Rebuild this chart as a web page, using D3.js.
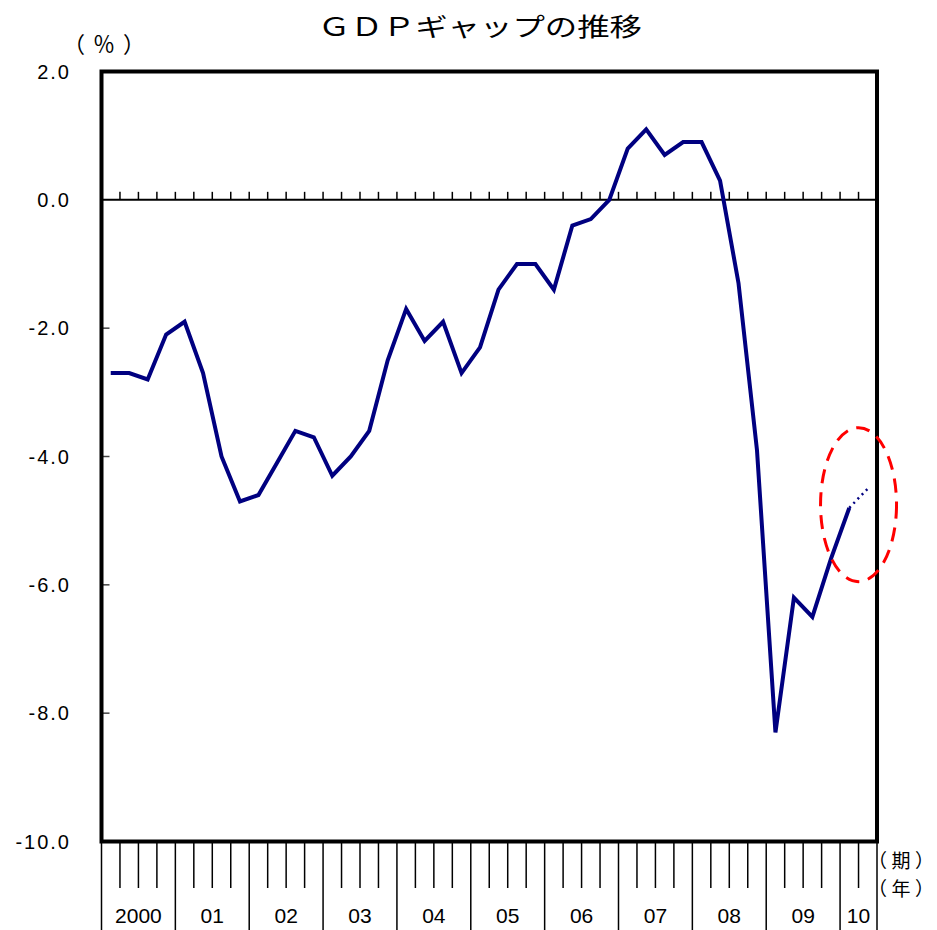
<!DOCTYPE html>
<html><head><meta charset="utf-8">
<script src="https://cdn.jsdelivr.net/npm/d3@7"></script>
<style>
html,body{margin:0;padding:0;background:#fff;}
svg{display:block;}
</style></head>
<body>
<script>
// ---- data ----
const title = "ＧＤＰギャップの推移";
const unitLabel = "（％）";
const periodLabel = "（期）";
const yearAxisLabel = "（年）";
const yearLabels = ["2000","01","02","03","04","05","06","07","08","09","10"];
const quartersPerYear = [4,4,4,4,4,4,4,4,4,4,2];
const yTicks = [2,0,-2,-4,-6,-8,-10];
const yTickLabels = ["2.0","0.0","-2.0","-4.0","-6.0","-8.0","-10.0"];
// quarterly GDP gap (%) 2000Q1 .. 2010Q1
const gapValues = [-2.7,-2.7,-2.8,-2.1, -1.9,-2.7,-4.0,-4.7, -4.6,-4.1,-3.6,-3.7,
  -4.3,-4.0,-3.6,-2.5, -1.7,-2.2,-1.9,-2.7, -2.3,-1.4,-1.0,-1.0,
  -1.4,-0.4,-0.3,0.0, 0.8,1.1,0.7,0.9, 0.9,0.3,-1.3,-3.9,
  -8.3,-6.2,-6.5,-5.6, -4.8];
// 2010Q1 -> 2010Q2 estimate (dotted)
const projectedValues = [-4.8,-4.5];

// ---- layout ----
const W = 937, H = 930;
const L = 101.5, R = 877, T = 71.5, B = 841.5;
const nQ = d3.sum(quartersPerYear);

const svg = d3.select("body").append("svg").attr("width", W).attr("height", H);
const x = d3.scaleLinear().domain([0, nQ]).range([L, R]);
const y = d3.scaleLinear().domain([-10, 2]).range([B, T]);

const numFont = "'Liberation Sans', Arial, sans-serif";
const jpFont = "'Noto Sans CJK JP', sans-serif";

// title
svg.append("text").attr("x", 318).attr("y", 36)
  .attr("textLength", 324).attr("lengthAdjust", "spacingAndGlyphs")
  .style("font-family", jpFont).style("font-size", "25px").attr("fill", "#000")
  .text(title);
svg.append("text").attr("x", 63).attr("y", 52)
  .style("font-family", jpFont).style("font-size", "22px")
  .style("letter-spacing", "8px").text(unitLabel);

// y labels
svg.selectAll("text.ylab").data(yTicks).enter().append("text")
  .attr("class", "ylab")
  .attr("x", 71).attr("y", d => y(d) + 7)
  .attr("text-anchor", "end")
  .style("font-family", numFont).style("font-size", "20px")
  .style("letter-spacing", "2px")
  .text((d, i) => yTickLabels[i]);

// y ticks inside
svg.selectAll("line.ytick").data(yTicks.filter(d => d !== 0 && d !== 2 && d !== -10)).enter().append("line")
  .attr("x1", L).attr("x2", L + 8).attr("y1", d => y(d)).attr("y2", d => y(d))
  .attr("stroke", "#444").attr("stroke-width", 1.5);

// zero line and quarter ticks
svg.append("line").attr("x1", L).attr("x2", R).attr("y1", y(0)).attr("y2", y(0))
  .attr("stroke", "#000").attr("stroke-width", 2);
const innerBounds = d3.range(1, nQ);
svg.selectAll("line.ztick").data(innerBounds).enter().append("line")
  .attr("x1", d => x(d)).attr("x2", d => x(d))
  .attr("y1", y(0)).attr("y2", y(0) - 8)
  .attr("stroke", "#000").attr("stroke-width", 1.5);

// bottom axis
const yearStarts = [];
let acc = 0;
quartersPerYear.forEach(q => { yearStarts.push(acc); acc += q; });
yearStarts.push(acc);
const quarterLines = d3.range(0, nQ + 1).filter(q => !yearStarts.includes(q));
svg.selectAll("line.qt").data(quarterLines).enter().append("line")
  .attr("x1", d => x(d)).attr("x2", d => x(d))
  .attr("y1", B).attr("y2", 888)
  .attr("stroke", "#000").attr("stroke-width", 1.5);
svg.selectAll("line.yt").data(yearStarts).enter().append("line")
  .attr("x1", d => x(d)).attr("x2", d => x(d))
  .attr("y1", B).attr("y2", H)
  .attr("stroke", "#000").attr("stroke-width", 1.5);
svg.selectAll("text.year").data(yearLabels).enter().append("text")
  .attr("x", (d, i) => x(yearStarts[i] + quartersPerYear[i] / 2))
  .attr("y", 923).attr("text-anchor", "middle")
  .style("font-family", numFont).style("font-size", "21px")
  .text(d => d);
svg.append("text").attr("x", 868).attr("y", 868)
  .attr("textLength", 66).attr("lengthAdjust", "spacing")
  .style("font-family", jpFont).style("font-size", "19px")
  .text(periodLabel);
svg.append("text").attr("x", 868).attr("y", 896)
  .attr("textLength", 66).attr("lengthAdjust", "spacing")
  .style("font-family", jpFont).style("font-size", "19px")
  .text(yearAxisLabel);

// data line
const line = d3.line().x((d, i) => x(i + 0.5)).y(d => y(d));
svg.append("path").datum(gapValues).attr("d", line)
  .attr("fill", "none").attr("stroke", "#000080").attr("stroke-width", 4)
  .attr("stroke-linejoin", "miter");
const offset = gapValues.length - 1;
const pline = d3.line().x((d, i) => x(offset + i + 0.5)).y(d => y(d));
svg.append("path").datum(projectedValues).attr("d", pline)
  .attr("fill", "none").attr("stroke", "#000080").attr("stroke-width", 2.5)
  .attr("stroke-dasharray", "2,4");

// frame
svg.append("rect").attr("x", L).attr("y", T).attr("width", R - L).attr("height", B - T)
  .attr("fill", "none").attr("stroke", "#000").attr("stroke-width", 4);

// annotation ellipse
svg.append("ellipse")
  .attr("cx", x(nQ - 1)).attr("cy", y(-4.75))
  .attr("rx", 38).attr("ry", 77)
  .attr("fill", "none").attr("stroke", "#ff0000").attr("stroke-width", 3)
  .attr("stroke-dasharray", "14,9");
</script>
</body></html>
